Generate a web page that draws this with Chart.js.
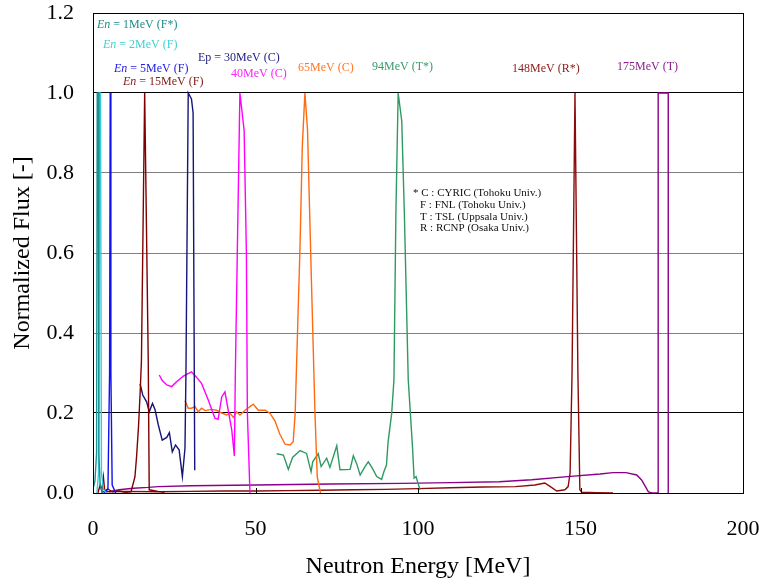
<!DOCTYPE html>
<html>
<head>
<meta charset="utf-8">
<script src="https://cdn.jsdelivr.net/npm/chart.js@4.4.0/dist/chart.umd.min.js"></script>
<style>
  body { margin: 0; background: #fff; }
  #wrap { width: 759px; height: 584px; }
</style>
</head>
<body>
<div id="wrap"><canvas id="fluxChart"></canvas></div>
<script>
// neutron energy [MeV] / normalized flux
const en1E = [0, 0.6, 1.1, 1.3, 1.6, 1.8, 2.2, 3];
const en1F = [0.01, 0.03, 0.1, 1.0, 1.0, 0.1, 0.02, 0];

const en2E = [1.2, 1.7, 2.0, 2.3, 2.6, 3.2, 4];
const en2F = [0, 0.05, 1.0, 1.0, 0.05, 0.01, 0];

const en5E = [3.5, 4.6, 5.1, 5.3, 5.5, 5.9, 7];
const en5F = [0, 0.01, 0.3, 1.0, 0.3, 0.02, 0];

const en15E = [1.5, 2.2, 2.7, 3.2, 3.6, 4.5, 6, 8, 10, 11.7, 12.9, 13.4, 14.0, 14.5, 14.9, 15.9, 17.0, 17.3, 20, 22];
const en15F = [0, 0.02, 0.005, 0.04, 0.005, 0.01, 0.003, 0.005, 0.002, 0.003, 0.04, 0.09, 0.166, 0.25, 0.33, 1.0, 0.33, 0.008, 0.004, 0.002];

const ep30E = [14.5, 15.3, 16.5, 17.3, 18.3, 19.1, 20.1, 21.3, 22.7, 23.5, 24.4, 25.4, 26.5, 27.5, 28.3, 28.6, 29.3, 30.3, 30.8, 31.3];
const ep30F = [0.273, 0.245, 0.228, 0.203, 0.224, 0.208, 0.17, 0.132, 0.139, 0.151, 0.103, 0.12, 0.108, 0.041, 0.112, 0.3, 1.0, 0.985, 0.95, 0.057];

const c40E = [20.4, 21.3, 22.7, 24.2, 25.7, 27.8, 30.3, 31.9, 33.4, 35.5, 37.5, 38.5, 39.6, 40.6, 41.6, 42.7, 43.5, 43.8, 45.2, 46.5, 47.2, 47.5, 48.3];
const c40F = [0.295, 0.281, 0.27, 0.266, 0.278, 0.292, 0.303, 0.289, 0.274, 0.232, 0.187, 0.184, 0.24, 0.253, 0.207, 0.157, 0.0925, 0.3, 1.0, 0.907, 0.6, 0.2, 0];

const c65E = [28.3, 29.3, 30.3, 31.4, 32.4, 33.4, 34.5, 36.5, 38.0, 39.6, 41.1, 42.2, 43.2, 44.2, 45.2, 46.8, 49.3, 50.9, 53.0, 54.5, 56.0, 57.5, 59.1, 60.6, 61.6, 62.2, 63.7, 64.4, 65.2, 66.0, 67.2, 68.3, 69.0, 70.0];
const c65F = [0.231, 0.212, 0.212, 0.216, 0.203, 0.212, 0.206, 0.209, 0.207, 0.2, 0.195, 0.199, 0.189, 0.203, 0.195, 0.207, 0.222, 0.207, 0.207, 0.199, 0.18, 0.147, 0.122, 0.12, 0.128, 0.199, 0.616, 0.866, 1.0, 0.908, 0.533, 0.2, 0.04, 0];

const t94E = [56.5, 58.6, 60.1, 61.4, 63.7, 65.7, 67.1, 67.6, 69.3, 70.2, 71.9, 72.9, 75.0, 76.0, 79.1, 80.1, 81.1, 82.2, 83.7, 84.7, 85.8, 87.3, 88.8, 89.5, 90.3, 90.8, 91.9, 92.6, 93.2, 93.9, 95.0, 95.8, 97.0, 98.3, 98.8, 99.4, 100.6];
const t94F = [0.098, 0.095, 0.059, 0.089, 0.106, 0.099, 0.053, 0.078, 0.098, 0.066, 0.087, 0.064, 0.118, 0.058, 0.059, 0.093, 0.074, 0.045, 0.066, 0.078, 0.064, 0.041, 0.034, 0.053, 0.07, 0.128, 0.199, 0.283, 0.7, 1.0, 0.93, 0.7, 0.283, 0.116, 0.037, 0.041, 0.008];

const r148E = [3, 10, 20, 30, 40, 50, 60, 70, 80, 90, 100, 110, 120, 130, 136, 139, 140.5, 142.7, 145.2, 146.2, 146.8, 147.4, 148.3, 149.2, 149.8, 150.4, 155, 160];
const r148F = [0.003, 0.004, 0.003, 0.004, 0.005, 0.005, 0.006, 0.007, 0.008, 0.009, 0.011, 0.013, 0.015, 0.016, 0.02, 0.025, 0.017, 0.005, 0.008, 0.016, 0.05, 0.3, 1.0, 0.3, 0.008, 0.002, 0.001, 0];

const t175E = [5, 8, 12.4, 17, 20, 30, 50, 73, 95, 110, 125, 135, 146, 156, 160, 164, 167.3, 168.8, 170.9, 172, 173.9, 173.9, 177, 177];
const t175F = [0.003, 0.008, 0.012, 0.014, 0.016, 0.018, 0.02, 0.0225, 0.024, 0.026, 0.028, 0.033, 0.041, 0.0475, 0.051, 0.051, 0.045, 0.0325, 0.003, 0, 0, 1.0, 1.0, 0];

const yTicks = [0, 0.2, 0.4, 0.6, 0.8, 1.0, 1.2];
const xTicks = [0, 50, 100, 150, 200];

const serif = "'Liberation Serif', 'Times New Roman', serif";

function pts(es, fs) {
    return es.map((e, i) => ({ x: e, y: fs[i] }));
}

function series(label, es, fs, color) {
    return {
        label: label,
        data: pts(es, fs),
        borderColor: color,
        backgroundColor: color,
        borderWidth: 1.4,
        pointRadius: 0,
        showLine: true,
        tension: 0
    };
}

// beam labels, pixel positions on the canvas
const tags = [
    { x: 97, y: 25, c: '#1F8B8B', parts: [['En', 1], [' = 1MeV (F*)', 0]] },
    { x: 103, y: 45, c: '#40D0D0', parts: [['En', 1], [' = 2MeV (F)', 0]] },
    { x: 198, y: 58, c: '#1C1C80', parts: [['Ep = 30MeV (C)', 0]] },
    { x: 114, y: 69, c: '#2020E0', parts: [['En', 1], [' = 5MeV (F)', 0]] },
    { x: 231, y: 74, c: '#FF22FF', parts: [['40MeV (C)', 0]] },
    { x: 123, y: 82, c: '#801818', parts: [['En', 1], [' = 15MeV (F)', 0]] },
    { x: 298, y: 68, c: '#FF7722', parts: [['65MeV (C)', 0]] },
    { x: 372, y: 67, c: '#3A9A6A', parts: [['94MeV (T*)', 0]] },
    { x: 512, y: 69, c: '#8B1A1A', parts: [['148MeV (R*)', 0]] },
    { x: 617, y: 67, c: '#8B1F8B', parts: [['175MeV (T)', 0]] }
];
const notes = [
    [413, 193, '* C : CYRIC (Tohoku Univ.)'],
    [420, 205, 'F : FNL (Tohoku Univ.)'],
    [420, 217, 'T : TSL (Uppsala Univ.)'],
    [420, 228, 'R : RCNP (Osaka Univ.)']
];

const frame = {
    id: 'frame',
    afterDraw(chart) {
        const { ctx, chartArea: a, scales } = chart;
        ctx.save();
        ctx.strokeStyle = '#000';
        ctx.lineWidth = 1;
        ctx.strokeRect(a.left + 0.5, a.top + 0.5, a.right - a.left, a.bottom - a.top);
        // short inward ticks on the energy axis
        ctx.beginPath();
        xTicks.forEach(v => {
            const px = Math.round(scales.x.getPixelForValue(v)) + 0.5;
            ctx.moveTo(px, a.bottom);
            ctx.lineTo(px, a.bottom - 5);
        });
        ctx.stroke();

        ctx.textBaseline = 'middle';
        tags.forEach(t => {
            let x = t.x;
            ctx.fillStyle = t.c;
            t.parts.forEach(([s, it]) => {
                ctx.font = (it ? 'italic ' : '') + '12px ' + serif;
                ctx.fillText(s, x, t.y);
                x += ctx.measureText(s).width;
            });
        });
        ctx.fillStyle = '#111';
        ctx.font = '11px ' + serif;
        notes.forEach(([x, y, s]) => ctx.fillText(s, x, y));
        ctx.restore();
    }
};

new Chart(document.getElementById('fluxChart'), {
    type: 'scatter',
    data: {
        datasets: [
            series('En = 1MeV (F*)', en1E, en1F, '#1E9090'),
            series('En = 2MeV (F)', en2E, en2F, '#33CCDD'),
            series('En = 5MeV (F)', en5E, en5F, '#1010F0'),
            series('En = 15MeV (F)', en15E, en15F, '#800000'),
            series('Ep = 30MeV (C)', ep30E, ep30F, '#14147A'),
            series('40MeV (C)', c40E, c40F, '#FF00FF'),
            series('65MeV (C)', c65E, c65F, '#FF6A10'),
            series('94MeV (T*)', t94E, t94F, '#2E9A62'),
            series('148MeV (R*)', r148E, r148F, '#8B0A0A'),
            series('175MeV (T)', t175E, t175F, '#8B008B')
        ]
    },
    options: {
        responsive: true,
        maintainAspectRatio: false,
        animation: false,
        layout: { padding: { top: 13, right: 16, left: 0, bottom: 0 } },
        plugins: {
            legend: { display: false },
            tooltip: { enabled: false }
        },
        scales: {
            x: {
                type: 'linear',
                min: 0,
                max: 200,
                afterFit: s => { s.height = 91; s.paddingLeft = 0; s.paddingRight = 0; },
                afterBuildTicks: s => { s.ticks = xTicks.map(v => ({ value: v })); },
                grid: { display: false, drawTicks: false },
                border: { display: false },
                ticks: { color: '#000', padding: 23, maxRotation: 0, font: { family: serif, size: 22 } },
                title: {
                    display: true,
                    text: 'Neutron Energy [MeV]',
                    color: '#000',
                    padding: { top: 0, bottom: 3 },
                    font: { family: serif, size: 24 }
                }
            },
            y: {
                min: 0,
                max: 1.2,
                afterFit: s => { s.width = 93; s.paddingTop = 0; s.paddingBottom = 0; },
                afterBuildTicks: s => { s.ticks = yTicks.map(v => ({ value: v })); },
                grid: {
                    drawTicks: false,
                    color: c => (Math.abs(c.tick.value - 1.0) < 1e-6 || Math.abs(c.tick.value - 0.2) < 1e-6) ? '#000' : '#808080'
                },
                border: { display: false },
                ticks: {
                    color: '#000',
                    padding: 19,
                    font: { family: serif, size: 22 },
                    callback: v => v.toFixed(1)
                },
                title: {
                    display: true,
                    text: 'Normalized Flux [-]',
                    color: '#000',
                    padding: { top: 8, bottom: 0 },
                    font: { family: serif, size: 24 }
                }
            }
        }
    },
    plugins: [frame]
});
</script>
</body>
</html>
